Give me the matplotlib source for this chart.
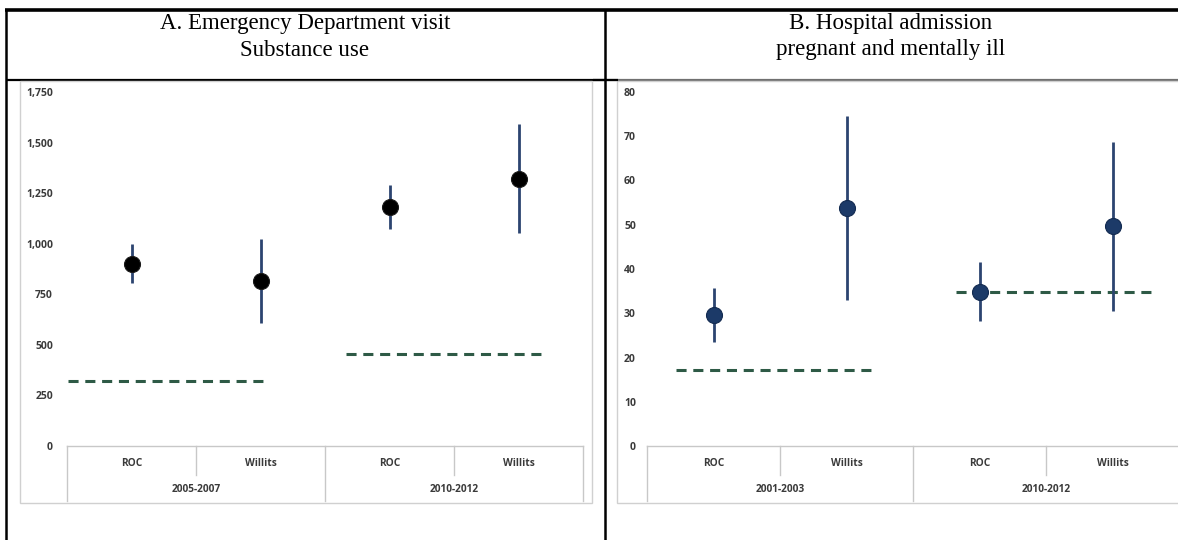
import matplotlib
matplotlib.use("Agg")
import matplotlib.pyplot as plt
import matplotlib.transforms as mtransforms
from matplotlib.lines import Line2D
from matplotlib.patches import Rectangle

# ---------------- data ----------------
titles = ["A. Emergency Department visit\nSubstance use",
          "B. Hospital admission\npregnant and mentally ill"]
sites = ["ROC", "Willits", "ROC", "Willits"]
periods_a = ["2005-2007", "2010-2012"]
periods_b = ["2001-2003", "2010-2012"]

est_a = [902, 818, 1180, 1319]
lo_a = [808, 610, 1071, 1051]
hi_a = [997, 1021, 1289, 1591]
bench_a = [322, 456]
yticks_a = [0, 250, 500, 750, 1000, 1250, 1500, 1750]
ytlabels_a = ["0", "250", "500", "750", "1,000", "1,250", "1,500", "1,750"]

est_b = [29.7, 53.7, 34.9, 49.7]
lo_b = [23.6, 33.1, 28.3, 30.6]
hi_b = [35.6, 74.6, 41.5, 68.7]
bench_b = [17.2, 34.7]
yticks_b = [0, 10, 20, 30, 40, 50, 60, 70, 80]
ytlabels_b = [str(v) for v in yticks_b]

# ---------------- layout helpers ----------------
W, H = 1178, 540
fig = plt.figure(figsize=(W / 100, H / 100), dpi=100)
fig.patch.set_facecolor("white")

def fx(px):
    return px / W

def fy(py):
    return 1 - py / H

TICK_FONT = ["Open Sans", "DejaVu Sans"]
TXT_COL = "#3a3a3a"
AX_COL = "#c8c8c8"
ERR_COL = "#2c4470"
DASH_COL = "#2e5a46"

def fig_line(x0, y0, x1, y1, lw, color, z=5):
    fig.add_artist(Line2D([fx(x0), fx(x1)], [fy(y0), fy(y1)], transform=fig.transFigure,
                          lw=lw, color=color, zorder=z, solid_capstyle="butt"))

# chart boxes (light grey frames)
fig.add_artist(Rectangle((fx(20), fy(503)), fx(592) - fx(20), fy(81) - fy(503),
                         transform=fig.transFigure, fill=True, facecolor="white",
                         edgecolor="#d0d0d0", lw=1.0, zorder=1))
fig.add_artist(Rectangle((fx(617), fy(503)), fx(1190) - fx(617), fy(81) - fy(503),
                         transform=fig.transFigure, fill=True, facecolor="white",
                         edgecolor="#d0d0d0", lw=1.0, zorder=1))

# table lines
fig_line(5, 9.5, 1178, 9.5, 2.6, "black", 6)
fig_line(6, 9, 6, 540, 1.8, "black", 6)
fig_line(605, 9, 605, 540, 1.8, "black", 6)
fig_line(6, 80, 605, 80, 1.6, "black", 0.5)
fig_line(593, 80, 618, 80, 1.6, "black", 6)
fig_line(605, 80, 1178, 80, 1.6, "#707070", 0.5)

# headers
for cx, t in zip([305, 891], titles):
    l1, l2 = t.split("\n")
    fig.text(fx(cx), fy(24), l1, ha="center", va="center", fontsize=16.5,
             family="Liberation Serif", color="black")
    fig.text(fx(cx), fy(50), l2, ha="center", va="center", fontsize=16.5,
             family="Liberation Serif", color="black")


def make_panel(left_px, right_px, top_px, bottom_px, ymax, est, lo, hi, bench, bench_spans,
               yticks, ytlabels, periods, marker_fc, marker_ec, pad):
    ax = fig.add_axes([fx(left_px), fy(bottom_px), fx(right_px) - fx(left_px),
                       fy(top_px) - fy(bottom_px)])
    ax.set_zorder(3)
    ax.patch.set_alpha(0)
    ax.set_xlim(-0.5, 3.5)
    ax.set_ylim(0, ymax)
    for s in ax.spines.values():
        s.set_visible(False)
    ax.set_xticks([])
    ax.set_yticks(yticks)
    ax.set_yticklabels(ytlabels, fontsize=7.5, fontweight="bold", color=TXT_COL,
                       family=TICK_FONT)
    ax.tick_params(axis="y", length=0, pad=pad)

    xs = list(range(len(est)))
    # benchmark dashed lines
    for val, (a, b) in zip(bench, bench_spans):
        ax.plot([a, b], [val, val], color=DASH_COL, lw=2.2,
                linestyle=(0, (3.3, 2.2)), dash_capstyle="butt", zorder=2, clip_on=False)
    # confidence intervals
    ax.vlines(xs, lo, hi, color=ERR_COL, lw=2.0, zorder=3)
    ax.plot(xs, est, linestyle="none", marker="o", markersize=11.5,
            markerfacecolor=marker_fc, markeredgecolor=marker_ec, markeredgewidth=0.8,
            zorder=4)

    # multi-level category axis
    tr = mtransforms.blended_transform_factory(ax.transData, fig.transFigure)
    y_axis = 446
    y_lvl1 = 475
    y_lvl2 = 501
    ax.add_line(Line2D([-0.5, 3.5], [fy(y_axis), fy(y_axis)], transform=tr, color=AX_COL,
                       lw=1.0, clip_on=False))
    for xb in [-0.5, 1.5, 3.5]:
        ax.add_line(Line2D([xb, xb], [fy(y_axis), fy(y_lvl2)], transform=tr, color=AX_COL,
                           lw=1.0, clip_on=False))
    for xb in [0.5, 2.5]:
        ax.add_line(Line2D([xb, xb], [fy(y_axis), fy(y_lvl1)], transform=tr, color=AX_COL,
                           lw=1.0, clip_on=False))
    for x, lab in zip(xs, sites):
        ax.text(x, fy(464), lab, transform=tr, ha="center", va="center", fontsize=7.3,
                fontweight="bold", color=TXT_COL, family=TICK_FONT, clip_on=False)
    for i, lab in enumerate(periods):
        ax.text(2 * i + 0.5, fy(489), lab, transform=tr, ha="center", va="center",
                fontsize=7.3, fontweight="bold", color=TXT_COL, family=TICK_FONT,
                clip_on=False)
    return ax


make_panel(67, 583, 92, 446, 1750, est_a, lo_a, hi_a, bench_a,
           [(-0.49, 1.04), (1.66, 3.18)], yticks_a, ytlabels_a, periods_a,
           "black", "#1a1a1a", 10)
make_panel(647, 1179, 92, 446, 80, est_b, lo_b, hi_b, bench_b,
           [(-0.28, 1.20), (1.82, 3.29)], yticks_b, ytlabels_b, periods_b,
           "#1c3a68", "#122a50", 8)

fig.savefig("out.png", dpi=100, facecolor="white")
